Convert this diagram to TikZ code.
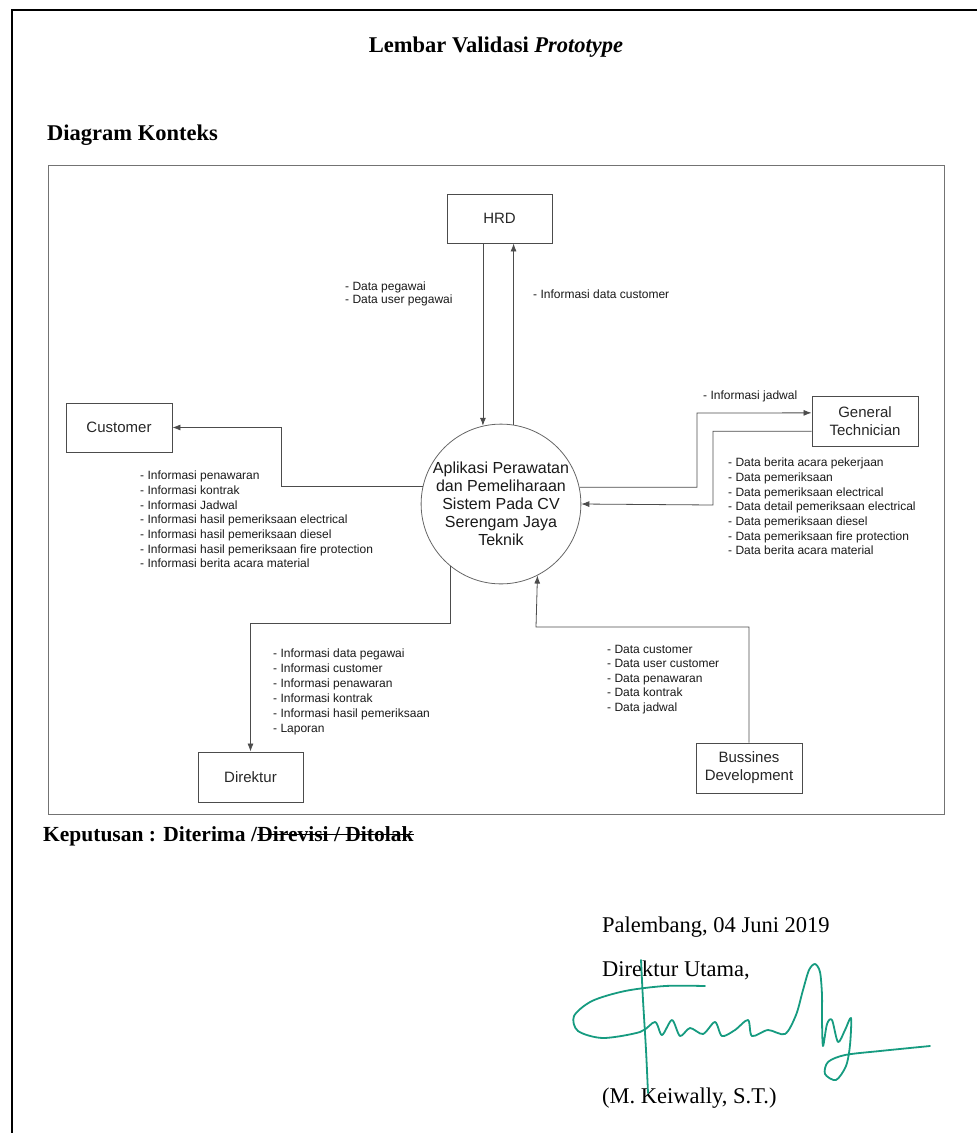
\documentclass[tikz,border=0pt]{standalone}
\usepackage{fontspec}
\setmainfont{Liberation Serif}
\newfontfamily\arialfont{Liberation Sans}
\usetikzlibrary{arrows.meta,calc}
\definecolor{inkteal}{RGB}{22,155,128}

\begin{document}
\begin{tikzpicture}[x=1pt,y=-1pt,
  entity/.style={draw=black!70, line width=0.9pt, minimum width=106pt,
    minimum height=50pt, inner sep=0pt, align=center, text=black!85,
    font=\arialfont\fontsize{15}{18}\selectfont},
  proc/.style={circle, draw=black!60, line width=0.8pt, minimum size=158pt,
    inner sep=0pt, align=center, text=black!90,
    font=\arialfont\fontsize{16}{18}\selectfont},
  flow/.style={draw=black!70, line width=0.8pt, -{Latex[length=8pt,width=6pt]}},
  flowlabel/.style={anchor=north west, inner sep=0pt, align=left, text=black!90},
  serifhead/.style={inner sep=0pt, font=\fontsize{22.5}{27}\selectfont\bfseries},
  serifplain/.style={inner sep=0pt, anchor=west, font=\fontsize{22.5}{27}\selectfont},
  signature/.style={draw=inkteal, line width=1.8pt, line cap=round, line join=round}
]
\useasboundingbox (0,0) rectangle (977,1133);

% page border
\draw[line width=2.5pt] (12,1133) -- (12,10) -- (977,10);

% headings
\node[serifhead] (title) at (496,47) {Lembar Validasi \textit{Prototype}};
\node[serifhead, anchor=west] (heading) at (47,135) {Diagram Konteks};

% frame of the context diagram
\draw[draw=black!55, line width=1pt] (48,165) rectangle (944,814);

% external entities and the process
\node[entity, minimum width=105pt, minimum height=49pt] (hrd) at (499.5,218.5) {HRD};
\node[entity, minimum height=49pt] (cust) at (119,427.5) {Customer};
\node[entity] (gt) at (865,421) {General\\Technician};
\node[entity, minimum width=105pt] (dir) at (250.5,777) {Direktur};
\node[entity] (bd) at (749,768) {Bussines\\Development};
\node[proc] (proc) at (501,504) {Aplikasi Perawatan\\dan Pemeliharaan\\Sistem Pada CV\\Serengam Jaya\\Teknik};

% bend points of the flows
\coordinate (gtin) at ($(gt.north west)!0.34!(gt.south west)$);
\coordinate (gtout) at ($(gt.north west)!0.70!(gt.south west)$);
\coordinate (custbend) at (281,427.5);
\coordinate (gtbend1) at (697,413);
\coordinate (gtbend2) at (713,505);
\coordinate (dirbend) at (250.5,623);
\coordinate (bdbend) at (536,627);

% data flows
\draw[flow] (proc.103.2 |- hrd.south) -- (proc.103.2);
\draw[flow] (proc.81.3) -- (proc.81.3 |- hrd.south);
\draw[flow] (proc.167.6) -| (custbend) -- (cust.east);
\draw[flow] (proc.12.4) -| (gtbend1) -- (gtin);
\draw[flow] (gtout) -| (gtbend2) -- (proc.-0.7);
\draw[flow] (proc.231.7) |- (dirbend) -- (dir.north);
\draw[flow] (bd.north) |- (bdbend) -- (proc.-63.7);

% flow labels
\node[flowlabel, font=\arialfont\fontsize{12}{13.3}\selectfont] (lblhrdin) at (345,281.7)
  {- Data pegawai\\- Data user pegawai};
\node[flowlabel, font=\arialfont\fontsize{12}{14.7}\selectfont] (lblhrdout) at (533,289.7)
  {- Informasi data customer};
\node[flowlabel, font=\arialfont\fontsize{12}{14.7}\selectfont] (lblcust) at (140,470.7)
  {- Informasi penawaran\\- Informasi kontrak\\- Informasi Jadwal\\
   - Informasi hasil pemeriksaan electrical\\- Informasi hasil pemeriksaan diesel\\
   - Informasi hasil pemeriksaan fire protection\\- Informasi berita acara material};
\node[flowlabel, font=\arialfont\fontsize{12}{14.7}\selectfont] (lblgtin) at (703,390.7)
  {- Informasi jadwal};
\node[flowlabel, font=\arialfont\fontsize{12}{14.7}\selectfont] (lblgtout) at (728,457.7)
  {- Data berita acara pekerjaan\\- Data pemeriksaan\\- Data pemeriksaan electrical\\
   - Data detail pemeriksaan electrical\\- Data pemeriksaan diesel\\
   - Data pemeriksaan fire protection\\- Data berita acara material};
\node[flowlabel, font=\arialfont\fontsize{12}{15}\selectfont] (lbldir) at (273,648.7)
  {- Informasi data pegawai\\- Informasi customer\\- Informasi penawaran\\
   - Informasi kontrak\\- Informasi hasil pemeriksaan\\- Laporan};
\node[flowlabel, font=\arialfont\fontsize{12}{14.5}\selectfont] (lblbd) at (607,644.7)
  {- Data customer\\- Data user customer\\- Data penawaran\\- Data kontrak\\- Data jadwal};

% decision and approval
\node[serifhead, anchor=base west, font=\fontsize{21.5}{26}\selectfont\bfseries] (decision) at (43,841)
  {Keputusan : Diterima /\ };
\node[serifhead, anchor=base west, font=\fontsize{21.5}{26}\selectfont\bfseries] (rejected) at (decision.base east)
  {Direvisi / Ditolak};
\draw[line width=1.4pt] ([yshift=6.5pt]rejected.base west) -- ([yshift=6.5pt]rejected.base east);
\node[serifplain] (place) at (602,927) {Palembang, 04 Juni 2019};
\node[serifplain] (role) at (602,970) {Direktur Utama,};
\node[serifplain] (signer) at (602,1098) {(M. Keiwally, S.T.)};

% handwritten signature
\draw[signature] plot[smooth, tension=0.5] coordinates {
  (705,986) (665,986) (625,991) (592,1001) (574,1016) (578,1031) (603,1038)
  (640,1032) (655,1022) (662,1035) (672,1020) (680,1036) (690,1028) (703,1034)
  (715,1022) (722,1036) (735,1030) (748,1020) (752,1036) (768,1030) (785,1034)
  (796,1015) (803,990) (809,970) (815,964) (820,972) (822,995) (822,1020)
  (823,1046) (827,1024) (832,1020) (838,1042) (845,1030) (851,1018) (850,1045)
  (846,1066) (836,1080) (825,1074) (828,1062) (845,1055) (880,1051) (930,1046)};
\draw[signature] plot[smooth, tension=0.5] coordinates {
  (641,960) (643,1000) (646,1050) (648,1093)};
\end{tikzpicture}
\end{document}
